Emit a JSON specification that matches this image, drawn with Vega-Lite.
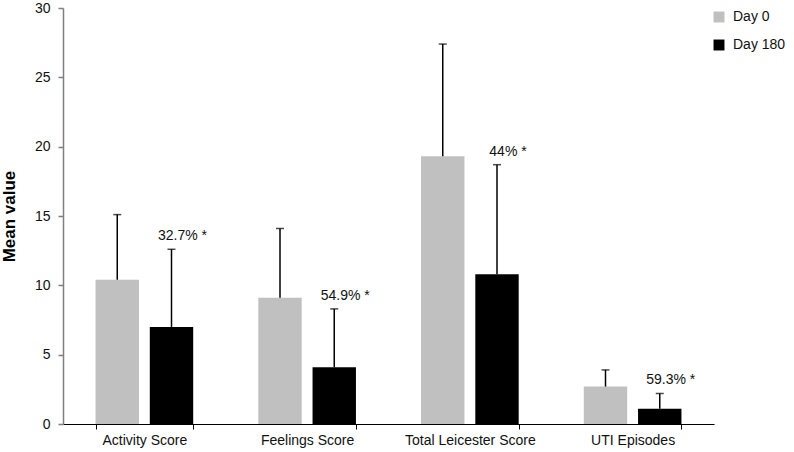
{
  "$schema": "https://vega.github.io/schema/vega-lite/v6.json",
  "autosize": {"type": "none"},
  "padding": {"left": 63, "top": 8, "right": 80, "bottom": 28},
  "width": 651,
  "height": 416,
  "background": "white",
  "config": {
    "view": {"stroke": null},
    "font": "Liberation Sans"
  },
  "data": {
    "values": [
      {"category": "Activity Score", "day": "Day 0", "mean": 10.4, "upper": 15.1, "label": ""},
      {"category": "Activity Score", "day": "Day 180", "mean": 7.0, "upper": 12.6, "label": "32.7% *"},
      {"category": "Feelings Score", "day": "Day 0", "mean": 9.1, "upper": 14.1, "label": ""},
      {"category": "Feelings Score", "day": "Day 180", "mean": 4.1, "upper": 8.3, "label": "54.9% *"},
      {"category": "Total Leicester Score", "day": "Day 0", "mean": 19.3, "upper": 27.4, "label": ""},
      {"category": "Total Leicester Score", "day": "Day 180", "mean": 10.8, "upper": 18.7, "label": "44% *"},
      {"category": "UTI Episodes", "day": "Day 0", "mean": 2.7, "upper": 3.9, "label": ""},
      {"category": "UTI Episodes", "day": "Day 180", "mean": 1.1, "upper": 2.2, "label": "59.3% *"}
    ]
  },
  "encoding": {
    "x": {
      "field": "category", "type": "nominal",
      "sort": ["Activity Score", "Feelings Score", "Total Leicester Score", "UTI Episodes"],
      "scale": {"paddingInner": 0.4, "paddingOuter": 0.2},
      "axis": {
        "title": null, "labelAngle": 0, "tickBand": "extent",
        "domainColor": "#000", "tickColor": "#000", "tickSize": 5,
        "labelFontSize": 14, "labelColor": "#111", "labelPadding": 4
      }
    },
    "xOffset": {
      "field": "day", "type": "nominal",
      "scale": {"paddingInner": 0.2, "paddingOuter": 0}
    }
  },
  "layer": [
    {
      "mark": {"type": "bar"},
      "encoding": {
        "y": {
          "field": "mean", "type": "quantitative",
          "scale": {"domain": [0, 30], "nice": false},
          "axis": {
            "title": "Mean value", "titleFontSize": 17, "titleFontWeight": "bold", "titleColor": "#000",
            "titlePadding": 16,
            "values": [0, 5, 10, 15, 20, 25, 30], "grid": false,
            "domainColor": "#7f7f7f", "domainWidth": 1.5, "tickColor": "#7f7f7f", "tickWidth": 1.5, "tickSize": 5,
            "labelFontSize": 14, "labelColor": "#111", "labelPadding": 8
          }
        },
        "color": {
          "field": "day", "type": "nominal",
          "scale": {"domain": ["Day 0", "Day 180"], "range": ["#c0c0c0", "#000000"]},
          "legend": {
            "title": null, "orient": "none", "legendX": 649, "legendY": 2,
            "symbolType": "square", "symbolSize": 120, "symbolStrokeWidth": 0,
            "labelFontSize": 14, "labelColor": "#111", "rowPadding": 14, "labelOffset": 7
          }
        }
      }
    },
    {
      "mark": {"type": "rule", "strokeWidth": 1.5},
      "encoding": {
        "y": {"field": "mean", "type": "quantitative"},
        "y2": {"field": "upper"},
        "color": {"value": "#000"}
      }
    },
    {
      "mark": {"type": "tick", "orient": "horizontal", "size": 8, "thickness": 1.5, "color": "#000"},
      "encoding": {
        "y": {"field": "upper", "type": "quantitative"}
      }
    },
    {
      "transform": [{"filter": "datum.label != ''"}],
      "mark": {"type": "text", "fontSize": 14, "dx": 11, "dy": -9, "baseline": "alphabetic", "align": "center", "color": "#111"},
      "encoding": {
        "y": {"field": "upper", "type": "quantitative"},
        "text": {"field": "label"}
      }
    }
  ]
}
